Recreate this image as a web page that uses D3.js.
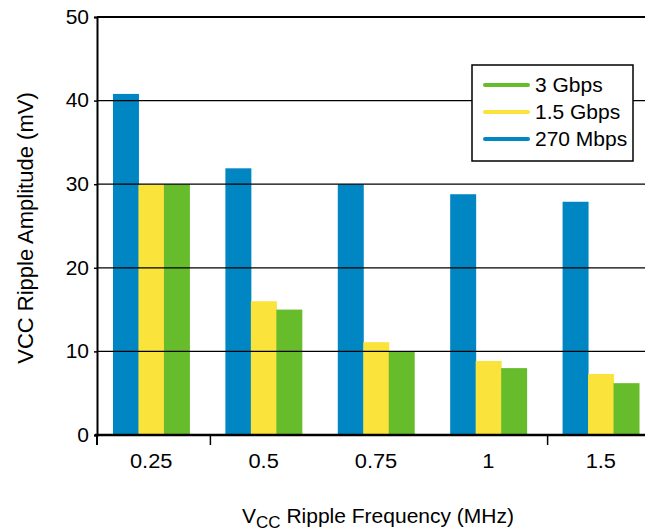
<!DOCTYPE html>
<html>
<head>
<meta charset="utf-8">
<script src="https://cdn.jsdelivr.net/npm/d3@7"></script>
<style>
  body { margin: 0; background: #fff; }
  svg text { font-family: "Liberation Sans", Arial, sans-serif; fill: #000; }
</style>
</head>
<body>
<div id="chart"></div>
<script>
// data
const freqs = ["0.25", "0.5", "0.75", "1", "1.5"];
const seriesNames = ["270 Mbps", "1.5 Gbps", "3 Gbps"];
const mbps270 = [40.8, 31.9, 30.0, 28.8, 27.9];
const gbps15 = [30.0, 16.0, 11.1, 8.85, 7.3];
const gbps3 = [30.0, 15.0, 10.0, 8.0, 6.2];
const yTicks = [0, 10, 20, 30, 40, 50];
const legendOrder = ["3 Gbps", "1.5 Gbps", "270 Mbps"];
const boundaryTicks = ["0.5", "1.5"];

const colors = { "270 Mbps": "#0087c3", "1.5 Gbps": "#fae33a", "3 Gbps": "#67bc2c" };
const values = { "270 Mbps": mbps270, "1.5 Gbps": gbps15, "3 Gbps": gbps3 };

const w = 645, h = 531;
const padLeft = 97, padRight = 645, padTop = 17, padBot = 435;

const svg = d3.select("#chart").append("svg")
  .attr("width", w).attr("height", h);

// scales
const y = d3.scaleLinear().domain([0, 50]).range([padBot, padTop]);
const x0 = d3.scaleBand().domain(freqs).range([95, 657])
  .paddingInner(0.32).paddingOuter(0.16);
const x1 = d3.scaleBand().domain(seriesNames).range([0, x0.bandwidth()]);

// bars
const groups = svg.append("g").selectAll("g")
  .data(freqs)
  .join("g")
  .attr("transform", d => `translate(${x0(d)},0)`);

groups.selectAll("rect")
  .data((d, i) => seriesNames.map(s => ({ s, v: values[s][i] })))
  .join("rect")
  .attr("x", d => x1(d.s))
  .attr("y", d => y(d.v))
  .attr("width", x1.bandwidth() + 0.5)
  .attr("height", d => y(0) - y(d.v))
  .attr("fill", d => colors[d.s]);

// gridlines over the bars
svg.append("g").selectAll("line")
  .data(yTicks.filter(t => t > 0))
  .join("line")
  .attr("x1", padLeft).attr("x2", padRight)
  .attr("y1", d => y(d)).attr("y2", d => y(d))
  .attr("stroke", "#000")
  .attr("stroke-width", d => d === 50 ? 2 : 1.3);

// y axis
const yAxis = svg.append("g")
  .attr("transform", `translate(${padLeft},0)`)
  .call(d3.axisLeft(y).tickValues(yTicks).tickSize(3).tickPadding(5));
yAxis.select(".domain").attr("stroke", "#000").attr("stroke-width", 2);
yAxis.selectAll(".tick line").attr("stroke-width", 1.5);
yAxis.selectAll("text").attr("font-size", 21).attr("dy", "0.3em");

// x axis
const xAxis = svg.append("g")
  .attr("transform", `translate(0,${padBot})`)
  .call(d3.axisBottom(x0).tickSize(0).tickPadding(19));
xAxis.select(".domain").remove();
xAxis.selectAll(".tick text")
  .attr("font-size", 19.5)
  .attr("transform", "scale(1.12,1)");
xAxis.append("line")
  .attr("x1", padLeft - 2).attr("x2", padRight)
  .attr("stroke", "#000").attr("stroke-width", 2.5);
const step = x0.step();
xAxis.selectAll(".bt")
  .data(boundaryTicks)
  .join("line")
  .attr("class", "bt")
  .attr("x1", d => x0(d) - step * x0.paddingInner() / 2 + 3)
  .attr("x2", d => x0(d) - step * x0.paddingInner() / 2 + 3)
  .attr("y1", 0).attr("y2", 10)
  .attr("stroke", "#000").attr("stroke-width", 1.5);
xAxis.append("line")
  .attr("x1", padLeft).attr("x2", padLeft).attr("y1", 0).attr("y2", 10)
  .attr("stroke", "#000").attr("stroke-width", 2);

// axis titles
svg.append("text")
  .attr("transform", `translate(33,228) rotate(-90)`)
  .attr("text-anchor", "middle")
  .attr("font-size", 22)
  .text("VCC Ripple Amplitude (mV)");

const xt = svg.append("text")
  .attr("x", 378).attr("y", 523)
  .attr("text-anchor", "middle")
  .attr("font-size", 21);
xt.append("tspan").text("V");
xt.append("tspan").attr("font-size", 17).attr("dy", 5).text("CC");
xt.append("tspan").attr("dy", -5).text(" Ripple Frequency (MHz)");

// legend
const lg = svg.append("g").attr("transform", "translate(472,65)");
lg.append("rect")
  .attr("width", 161).attr("height", 96)
  .attr("fill", "#fff").attr("stroke", "#000").attr("stroke-width", 1.5);
const ly = d3.scalePoint().domain(legendOrder).range([20, 74]);
const items = lg.selectAll(".item")
  .data(legendOrder)
  .join("g")
  .attr("class", "item")
  .attr("transform", d => `translate(0,${ly(d)})`);
items.append("line")
  .attr("x1", 13).attr("x2", 56)
  .attr("stroke", d => colors[d])
  .attr("stroke-width", 4)
  .attr("stroke-linecap", "round");
items.append("text")
  .attr("x", 63).attr("dy", "0.35em")
  .attr("font-size", 21)
  .text(d => d);
</script>
</body>
</html>
